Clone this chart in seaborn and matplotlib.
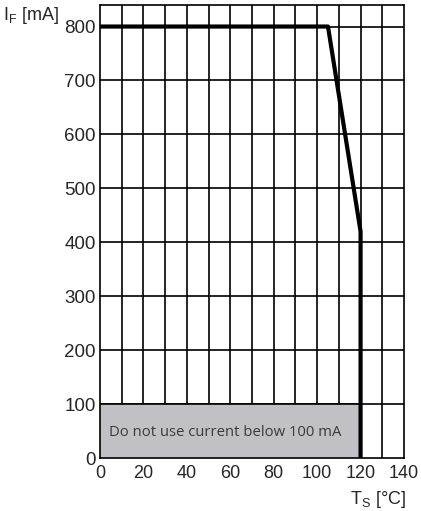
import matplotlib
matplotlib.use("Agg")
import matplotlib.pyplot as plt
import seaborn as sns
import pandas as pd
import numpy as np

# Derating curve: forward current vs solder point temperature
temp_c = [0, 105, 120, 120]
current_ma = [800, 800, 420, 0]

x_ticks = [0, 20, 40, 60, 80, 100, 120, 140]
y_ticks = [0, 100, 200, 300, 400, 500, 600, 700, 800]

forbidden_x = [0, 120]
forbidden_y = 100
forbidden_text = "Do not use current below 100 mA"

sns.set_style("white")
plt.rcParams['font.family'] = ['Liberation Sans', 'DejaVu Sans']

fig = plt.figure(figsize=(4.21, 5.11), dpi=100)
ax = fig.add_axes([0.2375, 0.1037, 0.7221, 0.8866])

ax.set_xlim(0, 140)
ax.set_ylim(0, 840)

# grid: every 10 degC, every 100 mA
for xv in np.arange(10, 140, 10):
    ax.axvline(xv, color="black", lw=1.2, zorder=1)
for yv in np.arange(100, 900, 100):
    ax.axhline(yv, color="black", lw=1.2, zorder=1)

# grey box where current below 100 mA is not allowed
ax.fill_between(forbidden_x, 0, forbidden_y, color="#c1c1c5", zorder=2, lw=0)
ax.plot(forbidden_x, [forbidden_y, forbidden_y], color="black", lw=1.2, zorder=2)
ax.text(4, 48, forbidden_text, fontsize=10.7, color="#3a3a3a", va="center", ha="left",
        family=["Open Sans", "DejaVu Sans"], zorder=3)

df = pd.DataFrame({"T": temp_c, "I": current_ma})
sns.lineplot(data=df, x="T", y="I", sort=False, estimator=None, color="black",
             lw=3, ax=ax, zorder=4)

for s in ax.spines.values():
    s.set_color("black")
    s.set_linewidth(1.2)
    s.set_zorder(5)

ax.set_xticks(x_ticks)
ax.set_yticks(y_ticks)
ax.set_xticklabels([str(v) for v in x_ticks], fontsize=13)
ax.set_yticklabels([str(v) for v in y_ticks], fontsize=13.5)
ax.tick_params(axis="both", length=0)
ax.tick_params(axis="y", pad=3)
ax.tick_params(axis="x", pad=5)
ax.set_xlabel("")
ax.set_ylabel("")

# axis labels with subscripts
fig.text(0.008, 0.961, r"I$_\mathregular{F}$ [mA]", fontsize=13, ha="left", va="baseline")
fig.text(0.898, 0.0225, r"T$_\mathregular{S}$ [°C]", fontsize=13, ha="center", va="center")

fig.savefig("out.png", dpi=100)
